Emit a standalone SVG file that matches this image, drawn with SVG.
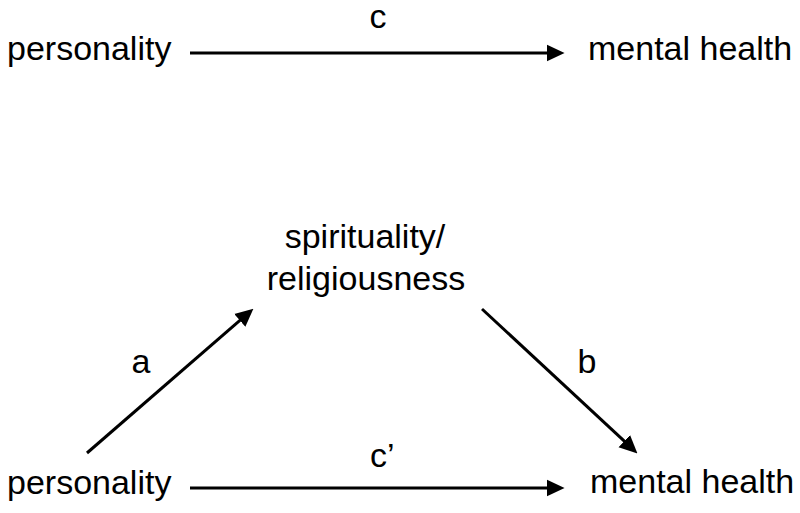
<svg xmlns="http://www.w3.org/2000/svg" width="800" height="513" viewBox="0 0 800 513">
<defs>
<style>
text{font-family:"Liberation Sans",Arial,sans-serif;font-size:34px;fill:#000}
.mid{text-anchor:middle}
.edge{stroke:#000;stroke-width:3;fill:none}
</style>
<marker id="ah" markerUnits="userSpaceOnUse" markerWidth="18" markerHeight="18" viewBox="0 0 17 16" refX="7" refY="8" orient="auto">
<path d="M0,0 L17,8 L0,16 z" fill="#000"/>
</marker>
</defs>
<rect width="800" height="513" fill="#fff"/>
<g id="connectors">
<line class="edge" x1="190" y1="53" x2="554" y2="53" marker-end="url(#ah)"/>
<text class="mid" x="378" y="28">c</text>
<line class="edge" x1="87" y1="453" x2="245.4" y2="315.6" marker-end="url(#ah)"/>
<text class="mid" x="141" y="373">a</text>
<line class="edge" x1="482" y1="309" x2="629.7" y2="446.2" marker-end="url(#ah)"/>
<text class="mid" x="587" y="373">b</text>
<line class="edge" x1="190" y1="488" x2="554" y2="488" marker-end="url(#ah)"/>
<text x="370" y="467">c’</text>
</g>
<g id="personality-top"><text x="7" y="60">personality</text></g>
<g id="mentalhealth-top"><text x="588" y="60">mental health</text></g>
<g id="spirituality"><text class="mid" x="365" y="248">spirituality/</text><text class="mid" x="366" y="290">religiousness</text></g>
<g id="personality-bottom"><text x="7" y="494">personality</text></g>
<g id="mentalhealth-bottom"><text x="590" y="493">mental health</text></g>
</svg>
